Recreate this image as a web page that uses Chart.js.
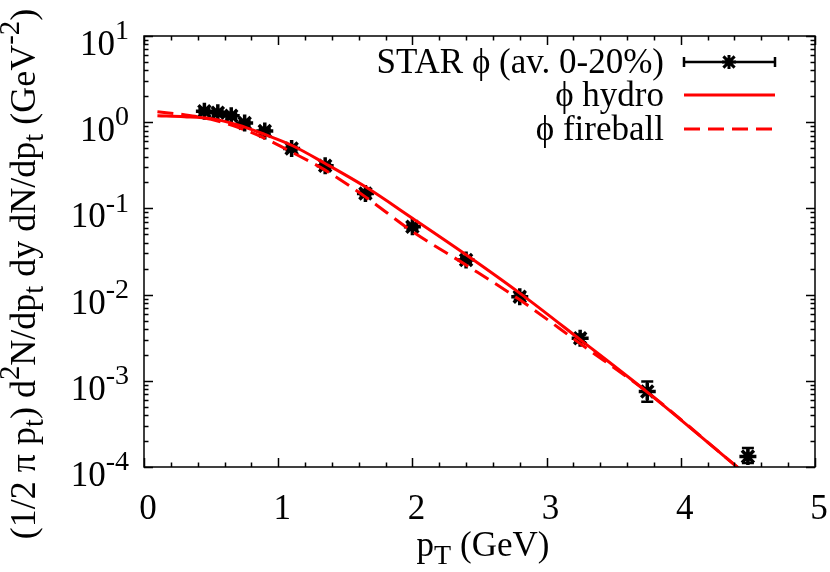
<!DOCTYPE html>
<html>
<head>
<meta charset="utf-8">
<script src="https://cdn.jsdelivr.net/npm/chart.js@4"></script>
<style>
  html, body { margin: 0; padding: 0; background: #fff; }
  #chart { display: block; }
</style>
</head>
<body>
<canvas id="chart" width="830" height="572"></canvas>
<script>
// STAR phi data (average 0-20%)
const starPt = [0.45, 0.55, 0.65, 0.75, 0.9, 1.1, 1.35, 1.65, 2.0, 2.4, 2.8, 3.25, 3.75, 4.5];
const starY = [1.34, 1.29, 1.19, 0.98, 0.79, 0.495, 0.312, 0.149, 0.0612, 0.0252, 0.00946, 0.00312, 0.00075, 0.000132];
const starLo = [1.27, 1.22, 1.12, 0.92, 0.74, 0.47, 0.295, 0.141, 0.058, 0.0236, 0.0087, 0.0028, 0.00057, 0.000111];
const starHi = [1.41, 1.36, 1.26, 1.04, 0.84, 0.52, 0.33, 0.157, 0.065, 0.0268, 0.0103, 0.00345, 0.00098, 0.000166];

// model curves
const curvePt = [0.1, 0.3, 0.5, 0.7, 0.9, 1.1, 1.35, 1.65, 2.0, 2.4, 2.8, 3.25, 3.75, 4.42, 4.6];
const hydroY = [1.19, 1.16, 1.1, 0.93, 0.72, 0.54, 0.332, 0.178, 0.077, 0.029, 0.0104, 0.003, 0.00074, 0.0001, 0.000059];
const fireballY = [1.32, 1.22, 1.08, 0.87, 0.65, 0.45, 0.278, 0.136, 0.054, 0.022, 0.0087, 0.0027, 0.00074, 0.0001, 0.000059];

const xTicks = [0, 1, 2, 3, 4, 5];
const yTickExps = [1, 0, -1, -2, -3, -4];

const legendLabels = ["STAR \u03d5 (av. 0-20%)", "\u03d5 hydro", "\u03d5 fireball"];

const FS = 35;
const RED = "#ff0000";
const fontOf = (s) => `${s}px "Liberation Serif", "Times New Roman", serif`;

// draw text made of normal / sub / sup pieces
const drawRich = (ctx, parts, x, y, align, fs) => {
  let w = 0;
  parts.forEach((p) => {
    ctx.font = fontOf(p.k === "n" ? fs : fs * 0.8);
    p.w = ctx.measureText(p.t).width;
    w += p.w;
  });
  let cx = align === "right" ? x - w : align === "center" ? x - w / 2 : x;
  ctx.textAlign = "left";
  ctx.textBaseline = "alphabetic";
  parts.forEach((p) => {
    const dy = p.k === "sup" ? -fs * 0.45 : p.k === "sub" ? fs * 0.22 : 0;
    ctx.font = fontOf(p.k === "n" ? fs : fs * 0.8);
    ctx.fillText(p.t, cx, y + dy);
    cx += p.w;
  });
};

const drawStar = (ctx, x, y, r) => {
  ctx.beginPath();
  ctx.moveTo(x - r, y); ctx.lineTo(x + r, y);
  ctx.moveTo(x, y - r); ctx.lineTo(x, y + r);
  const d = r * 0.8;
  ctx.moveTo(x - d, y - d); ctx.lineTo(x + d, y + d);
  ctx.moveTo(x - d, y + d); ctx.lineTo(x + d, y - d);
  ctx.stroke();
};

const framePlugin = {
  id: "frame",
  beforeDatasetsDraw(chart) {
    // error bars under the markers
    const ctx = chart.ctx;
    const xs = chart.scales.x;
    const ys = chart.scales.y;
    ctx.save();
    ctx.strokeStyle = "#000";
    ctx.lineWidth = 2.5;
    starPt.forEach((p, i) => {
      const px = xs.getPixelForValue(p);
      const top = ys.getPixelForValue(starHi[i]);
      const bot = ys.getPixelForValue(starLo[i]);
      ctx.beginPath();
      ctx.moveTo(px, top); ctx.lineTo(px, bot);
      ctx.moveTo(px - 6, top); ctx.lineTo(px + 6, top);
      ctx.moveTo(px - 6, bot); ctx.lineTo(px + 6, bot);
      ctx.stroke();
    });
    ctx.restore();
  },
  afterDraw(chart) {
    const ctx = chart.ctx;
    const a = chart.chartArea;
    const xs = chart.scales.x;
    const ys = chart.scales.y;
    ctx.save();
    ctx.strokeStyle = "#000";
    ctx.fillStyle = "#000";
    ctx.lineWidth = 1.5;
    ctx.strokeRect(a.left, a.top, a.right - a.left, a.bottom - a.top);

    // x ticks, every 0.2, major at integers
    ctx.beginPath();
    for (let i = 0; i <= 25; i++) {
      const v = i * 0.2;
      const px = Math.round(xs.getPixelForValue(v)) + 0.5;
      const len = i % 5 === 0 ? 9 : 4.5;
      ctx.moveTo(px, a.bottom); ctx.lineTo(px, a.bottom - len);
      ctx.moveTo(px, a.top); ctx.lineTo(px, a.top + len);
    }
    // y ticks on log scale
    for (let e = -4; e <= 1; e++) {
      for (let m = 1; m <= 9; m++) {
        const v = m * Math.pow(10, e);
        if (v > 10.0001) break;
        const py = Math.round(ys.getPixelForValue(v)) + 0.5;
        const len = m === 1 ? 9 : 4.5;
        ctx.moveTo(a.left, py); ctx.lineTo(a.left + len, py);
        ctx.moveTo(a.right, py); ctx.lineTo(a.right - len, py);
      }
    }
    ctx.stroke();

    // tick labels
    xTicks.forEach((t) => {
      drawRich(ctx, [{ t: String(t), k: "n" }], xs.getPixelForValue(t) + 4, 519, "center", FS);
    });
    yTickExps.forEach((e) => {
      const py = ys.getPixelForValue(Math.pow(10, e));
      drawRich(ctx, [{ t: "10", k: "n" }, { t: String(e), k: "sup" }], 129, py + 19, "right", FS);
    });

    // axis titles
    drawRich(ctx, [{ t: "p", k: "n" }, { t: "T", k: "sub" }, { t: " (GeV)", k: "n" }], 483, 556, "center", FS);
    ctx.save();
    ctx.translate(35, 274);
    ctx.rotate(-Math.PI / 2);
    drawRich(ctx, [
      { t: "(1/2 \u03c0 p", k: "n" }, { t: "t", k: "sub" },
      { t: ") d", k: "n" }, { t: "2", k: "sup" },
      { t: "N/dp", k: "n" }, { t: "t", k: "sub" },
      { t: " dy dN/dp", k: "n" }, { t: "t", k: "sub" },
      { t: " (GeV", k: "n" }, { t: "-2", k: "sup" }, { t: ")", k: "n" }
    ], 0, 0, "center", 36);
    ctx.restore();

    // legend, gnuplot style
    const rows = [62, 95, 129];
    legendLabels.forEach((lab, i) => {
      drawRich(ctx, [{ t: lab, k: "n" }], 664, rows[i] + 11, "right", FS);
    });
    ctx.lineWidth = 2.5;
    ctx.beginPath();
    ctx.moveTo(684, rows[0]); ctx.lineTo(775, rows[0]);
    ctx.moveTo(684, rows[0] - 5); ctx.lineTo(684, rows[0] + 5);
    ctx.moveTo(775, rows[0] - 5); ctx.lineTo(775, rows[0] + 5);
    ctx.stroke();
    ctx.lineWidth = 3;
    drawStar(ctx, 729, rows[0], 7);
    ctx.strokeStyle = RED;
    ctx.lineWidth = 3;
    ctx.beginPath();
    ctx.moveTo(684, rows[1]); ctx.lineTo(775, rows[1]);
    ctx.stroke();
    ctx.setLineDash([16, 8]);
    ctx.beginPath();
    ctx.moveTo(684, rows[2]); ctx.lineTo(775, rows[2]);
    ctx.stroke();
    ctx.restore();
  }
};

const whiteBg = {
  id: "whiteBg",
  beforeDraw(chart) {
    const ctx = chart.ctx;
    ctx.save();
    ctx.fillStyle = "#fff";
    ctx.fillRect(0, 0, chart.width, chart.height);
    ctx.restore();
  }
};

new Chart(document.getElementById("chart"), {
  type: "scatter",
  data: {
    datasets: [
      {
        label: legendLabels[1],
        data: curvePt.map((x, i) => ({ x, y: hydroY[i] })),
        showLine: true,
        borderColor: RED,
        borderWidth: 3,
        pointRadius: 0,
        cubicInterpolationMode: "monotone",
      },
      {
        label: legendLabels[2],
        data: curvePt.map((x, i) => ({ x, y: fireballY[i] })),
        showLine: true,
        borderColor: RED,
        borderWidth: 3,
        borderDash: [16, 8],
        pointRadius: 0,
        cubicInterpolationMode: "monotone",
      },
      {
        label: legendLabels[0],
        data: starPt.map((x, i) => ({ x, y: starY[i] })),
        pointStyle: "star",
        pointRadius: 8.5,
        borderColor: "#000",
        backgroundColor: "#000",
        borderWidth: 3.5,
      },
    ],
  },
  options: {
    responsive: false,
    animation: false,
    layout: { padding: { left: 144, right: 15, top: 36, bottom: 105 } },
    plugins: { legend: { display: false }, tooltip: { enabled: false } },
    scales: {
      x: { type: "linear", min: 0, max: 5, display: false },
      y: { type: "logarithmic", min: 1e-4, max: 10, display: false },
    },
  },
  plugins: [whiteBg, framePlugin],
});
</script>
</body>
</html>
